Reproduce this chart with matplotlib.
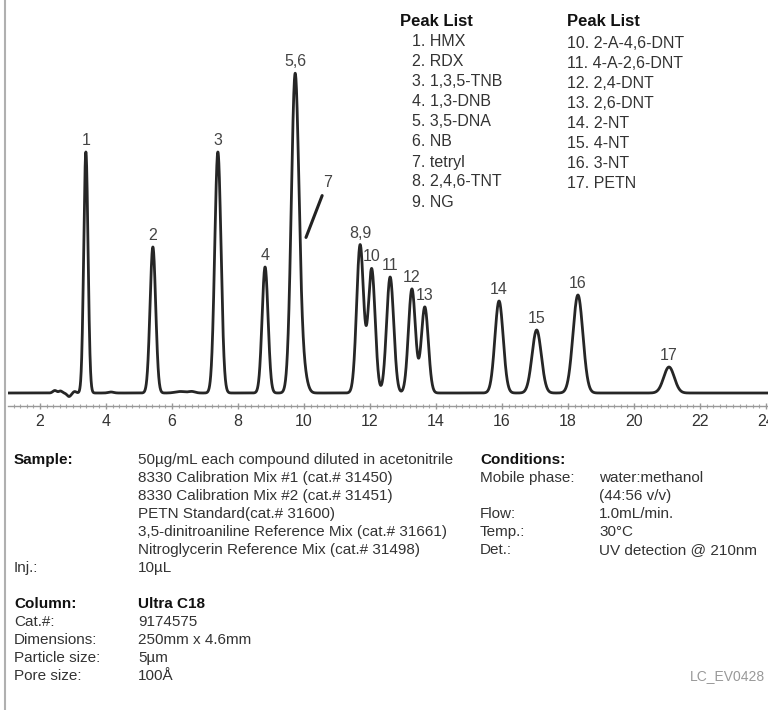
import matplotlib
matplotlib.use("Agg")
import matplotlib.pyplot as plt
import numpy as np
from matplotlib.lines import Line2D

plt.rcParams['font.family'] = ['Liberation Sans', 'DejaVu Sans']

# ---- data ----
peak_labels = ["1", "2", "3", "4", "5,6", "", "8,9", "10", "11", "12", "13", "14", "15", "16", "17"]
peak_rt     = [3.39, 5.42, 7.39, 8.82, 9.73, 9.95, 11.70, 12.05, 12.61, 13.27, 13.66, 15.91, 17.05, 18.30, 21.06]
peak_height = [241, 146, 241, 126, 315, 25, 148, 124, 116, 104, 86, 92, 63, 98, 26]
peak_sigma  = [0.065, 0.085, 0.095, 0.09, 0.115, 0.12, 0.105, 0.105, 0.108, 0.106, 0.106, 0.125, 0.14, 0.15, 0.16]
# small baseline disturbances
noise_rt     = [2.45, 2.62, 2.88, 3.05, 4.15, 6.25, 6.6]
noise_height = [2.5, 2.0, -3.5, 1.5, 1.0, 1.5, 1.5]
noise_sigma  = [0.06, 0.05, 0.06, 0.05, 0.08, 0.15, 0.1]

peak_list_1 = ["1. HMX", "2. RDX", "3. 1,3,5-TNB", "4. 1,3-DNB", "5. 3,5-DNA",
               "6. NB", "7. tetryl", "8. 2,4,6-TNT", "9. NG"]
peak_list_2 = ["10. 2-A-4,6-DNT", "11. 4-A-2,6-DNT", "12. 2,4-DNT", "13. 2,6-DNT",
               "14. 2-NT", "15. 4-NT", "16. 3-NT", "17. PETN"]

x_ticks = [2, 4, 6, 8, 10, 12, 14, 16, 18, 20, 22, 24]

sample_lines = ["50µg/mL each compound diluted in acetonitrile",
                "8330 Calibration Mix #1 (cat.# 31450)",
                "8330 Calibration Mix #2 (cat.# 31451)",
                "PETN Standard(cat.# 31600)",
                "3,5-dinitroaniline Reference Mix (cat.# 31661)",
                "Nitroglycerin Reference Mix (cat.# 31498)"]
cond_labels = ["Mobile phase:", "", "Flow:", "Temp.:", "Det.:"]
cond_values = ["water:methanol", "(44:56 v/v)", "1.0mL/min.", "30°C", "UV detection @ 210nm"]
col_labels = ["Cat.#:", "Dimensions:", "Particle size:", "Pore size:"]
col_values = ["9174575", "250mm x 4.6mm", "5µm", "100Å"]

W, H = 768, 710
fig = plt.figure(figsize=(W / 100, H / 100), dpi=100)
fig.patch.set_facecolor("white")

def fx(x):
    return x / W

def fy(y):
    return 1 - y / H

ax_left, ax_right, ax_top, ax_bot = 8, 768, 0, 406
ax = fig.add_axes([fx(ax_left), fy(ax_bot), (ax_right - ax_left) / W, (ax_bot - ax_top) / H])

t = np.linspace(1.0, 24.2, 6000)
sig = np.zeros_like(t)
for rt, h, s in zip(peak_rt + noise_rt, peak_height + noise_height, peak_sigma + noise_sigma):
    sig += h * np.exp(-0.5 * ((t - rt) / s) ** 2)

ax.plot(t, sig, color="#262626", lw=2.0, solid_joinstyle="round")

ax.set_xlim(1.03, 24.06)
ax.set_ylim(-13, 393)

for lab, rt, h in zip(peak_labels, peak_rt, peak_height):
    if not lab:
        continue
    top = np.interp(rt, t, sig)
    ax.text(rt, top + 4, lab, ha="center", va="bottom", fontsize=11.5, color="#444444")

ax.annotate("", xy=(10.03, 153), xytext=(10.58, 200),
            arrowprops=dict(arrowstyle="-", lw=2.2, color="#222222"))
ax.text(10.70, 203, "7", ha="center", va="bottom", fontsize=11.5, color="#444444")

for side in ["top", "right", "left"]:
    ax.spines[side].set_visible(False)
ax.spines["bottom"].set_color("#999999")
ax.spines["bottom"].set_linewidth(1.0)
ax.set_yticks([])
ax.set_xticks(x_ticks)
ax.set_xticks(np.arange(1.2, 24.1, 0.2), minor=True)
ax.tick_params(axis="x", which="major", direction="inout", length=5, width=1, color="#999999",
               labelsize=11.5, labelcolor="#333333", pad=3)
ax.tick_params(axis="x", which="minor", direction="inout", length=3, width=0.8, color="#aaaaaa")
ax.patch.set_alpha(0)

# left border line
fig.add_artist(Line2D([fx(5), fx(5)], [0, 1], color="#b0b0b0", lw=1.5, transform=fig.transFigure))

# peak lists
fig.text(fx(400), fy(22), "Peak List", fontsize=12, fontweight="bold", va="center", color="#111111")
for i, s in enumerate(peak_list_1):
    fig.text(fx(412), fy(42 + i * 20.0), s, fontsize=11.5, va="center", color="#333333")
fig.text(fx(567), fy(22), "Peak List", fontsize=12, fontweight="bold", va="center", color="#111111")
for i, s in enumerate(peak_list_2):
    fig.text(fx(567), fy(44 + i * 20.0), s, fontsize=11.5, va="center", color="#333333")

# info block
fs = 11
sp = 18.0
y0 = 460
fig.text(fx(14), fy(y0), "Sample:", fontsize=fs, fontweight="bold", va="center", color="#111111")
for i, s in enumerate(sample_lines):
    fig.text(fx(138), fy(y0 + i * sp), s, fontsize=fs, va="center", color="#333333")
fig.text(fx(14), fy(y0 + 6 * sp), "Inj.:", fontsize=fs, va="center", color="#333333")
fig.text(fx(138), fy(y0 + 6 * sp), "10µL", fontsize=fs, va="center", color="#333333")

fig.text(fx(480), fy(y0), "Conditions:", fontsize=fs, fontweight="bold", va="center", color="#111111")
for i, (l, v) in enumerate(zip(cond_labels, cond_values)):
    yy = y0 + (i + 1) * sp
    if l:
        fig.text(fx(480), fy(yy), l, fontsize=fs, va="center", color="#333333")
    fig.text(fx(599), fy(yy), v, fontsize=fs, va="center", color="#333333")

yc = y0 + 6 * sp + 36
fig.text(fx(14), fy(yc), "Column:", fontsize=fs, fontweight="bold", va="center", color="#111111")
fig.text(fx(138), fy(yc), "Ultra C18", fontsize=fs, fontweight="bold", va="center", color="#111111")
for i, (l, v) in enumerate(zip(col_labels, col_values)):
    yy = yc + (i + 1) * sp
    fig.text(fx(14), fy(yy), l, fontsize=fs, va="center", color="#333333")
    fig.text(fx(138), fy(yy), v, fontsize=fs, va="center", color="#333333")
fig.text(fx(765), fy(yc + 4 * sp), "LC_EV0428", fontsize=10, ha="right", va="center", color="#999999")

fig.savefig("out.png", dpi=100, facecolor="white")
